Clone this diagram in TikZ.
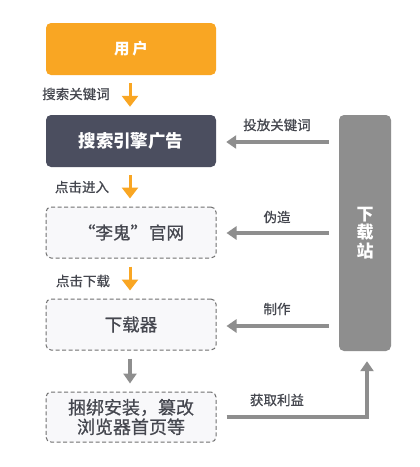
\documentclass[tikz,border=0pt]{standalone}
\usepackage{fontspec}
\setmainfont{Noto Sans CJK SC}
\newfontfamily\medfont[FakeBold=0.6]{Noto Sans CJK SC}
\usetikzlibrary{arrows.meta,calc}
\definecolor{orangeC}{HTML}{F9A623}
\definecolor{darkC}{HTML}{4B4E5F}
\definecolor{grayC}{HTML}{8E8E8E}
\definecolor{txtC}{HTML}{45474F}
\definecolor{dashC}{HTML}{707070}
\definecolor{fillC}{HTML}{F8F8FA}
\tikzset{
  box/.style={minimum width=170pt, minimum height=52pt, rounded corners=5pt, inner sep=0pt, font=\fontsize{17.5}{19}\selectfont\bfseries, align=center},
  dbox/.style={box, draw=dashC, fill=fillC, dash pattern=on 4pt off 2.5pt, line width=1pt, text=txtC, minimum height=51pt, font=\fontsize{17.5}{19}\selectfont\medfont},
  oarrow/.style={draw=orangeC, line width=3pt, -{Triangle[length=11pt,width=16pt]}},
  garrow/.style={draw=grayC, line width=3.5pt, -{Triangle[length=10pt,width=13pt]}},
  lbl/.style={font=\fontsize{13.5}{15}\selectfont\medfont, text=txtC, inner sep=0pt}
}
\begin{document}
\begin{tikzpicture}[x=1pt,y=-1pt]
\useasboundingbox[fill=white] (0,0) rectangle (420,467);
\node[box, fill=orangeC, text=white, font=\fontsize{15.5}{19}\selectfont\bfseries] (user) at (131,49) {用\hspace{3pt}户};
\node[box, fill=darkC, text=white] (search) at (131,141) {搜索引擎广告};
\node[dbox] (site) at (131,232.5) {“李鬼”\kern1pt 官网};
\node[dbox] (dl) at (131,324.5) {下载器};
\node[dbox, minimum height=50pt, font=\fontsize{18}{19.5}\selectfont\medfont] (final) at (131,417) {捆绑安装，篡改\\浏览器首页等};
\node[fill=grayC, rounded corners=5pt, minimum width=52pt, minimum height=236pt, inner sep=0pt, text=white, align=center, font=\fontsize{17}{18.5}\selectfont\bfseries] (bar) at (365,233) {下\\载\\站};

\draw[oarrow, shorten <=8pt, shorten >=8pt] (user.south -| 130,0) -- (search.north -| 130,0);
\draw[oarrow, shorten <=8pt, shorten >=8pt] (search.south -| 130,0) -- (site.north -| 130,0);
\draw[oarrow, shorten <=8pt, shorten >=8pt] (site.south -| 130,0) -- (dl.north -| 130,0);
\draw[garrow, shorten <=8pt, shorten >=8pt] (dl.south -| 130,0) -- (final.north -| 130,0);

\node[lbl] (l1) at (76,94) {搜索关键词};
\node[lbl] (l2) at (82,187) {点击进入};
\node[lbl] (l3) at (83,281) {点击下载};

\coordinate (a1) at (bar.west |- 0,142);
\coordinate (a2) at (bar.west |- 0,233);
\coordinate (a3) at (bar.west |- 0,326);
\draw[garrow, shorten <=10pt, shorten >=10pt] (a1) -- (search.east |- a1);
\draw[garrow, shorten <=10pt, shorten >=10pt] (a2) -- (site.east |- a2);
\draw[garrow, shorten <=10pt, shorten >=10pt] (a3) -- (dl.east |- a3);
\coordinate (corner) at (367,417);
\draw[garrow, shorten <=10pt, shorten >=10pt] (final.east) -- (corner) -- (corner |- bar.south);

\node[lbl] (r1) at (277,125) {投放关键词};
\node[lbl] (r2) at (277,217) {伪造};
\node[lbl] (r3) at (277,309) {制作};
\node[lbl] (r4) at (277,400) {获取利益};
\end{tikzpicture}
\end{document}
